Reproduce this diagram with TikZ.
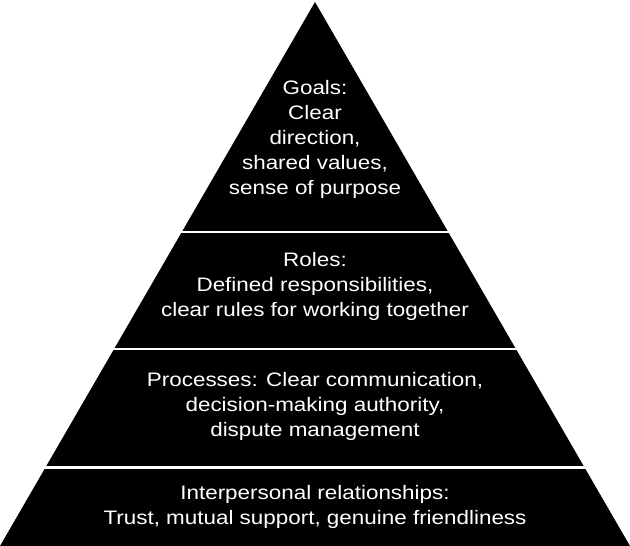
\documentclass[tikz,border=0pt]{standalone}
\usepackage{fontspec}
\setmainfont{Liberation Sans}[FakeStretch=1.15]
\usetikzlibrary{calc}

\begin{document}
\begin{tikzpicture}[x=1pt, y=-1pt,
  label/.style={align=center, text=white, font=\fontsize{19.5}{25}\selectfont},
  gap/.style={draw=white, line width=2.4pt}
]
\useasboundingbox (0,0) rectangle (630,546);

% pyramid outline
\coordinate (apex) at (315,2);
\coordinate (bl) at (0,546);
\coordinate (br) at (630,546);
\fill[black] (apex) -- (br) -- (bl) -- cycle;

% white cuts between the levels
\draw[gap] (0,232) -- (630,232);
\draw[gap] (0,349) -- (630,349);
\draw[gap, line width=2.8pt] (0,467.5) -- (630,467.5);

\node[label] (goals) at (315,139) {Goals:\\Clear\\direction,\\shared values,\\sense of purpose};
\node[label] (roles) at (315,286) {Roles:\\Defined responsibilities,\\clear rules for working together};
\node[label] (processes) at (315,406) {Processes: Clear communication,\\decision-making authority,\\dispute management};
\node[label] (relations) at (315,507) {Interpersonal relationships:\\Trust, mutual support, genuine friendliness};

\end{tikzpicture}
\end{document}
